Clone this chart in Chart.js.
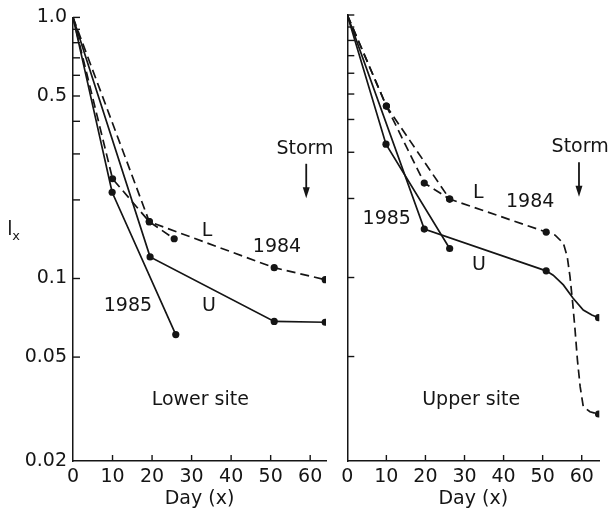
<!DOCTYPE html>
<html>
<head>
<meta charset="utf-8">
<script src="https://cdn.jsdelivr.net/npm/chart.js@4"></script>
<style>
  body { margin: 0; background: #fff; }
  .panel { position: absolute; top: 0; }
</style>
</head>
<body>
<div class="panel" style="left:0"><canvas id="lowerChart" width="336" height="513"></canvas></div>
<div class="panel" style="left:336px"><canvas id="upperChart" width="274" height="513"></canvas></div>
<script>
// axis ticks
const xTicks = [0, 10, 20, 30, 40, 50, 60];
const yTicks = [1, 0.9, 0.8, 0.7, 0.6, 0.5, 0.4, 0.3, 0.2, 0.1, 0.05, 0.02];
const yTickLabels = ["1.0", "", "", "", "", "0.5", "", "", "", "0.1", "0.05", "0.02"];

// Lower site
const lowL84Days = [0, 19.3, 50.9, 63.8];
const lowL84 = [1.0, 0.165, 0.11, 0.099];
const lowL85Days = [0, 10, 19.3, 25.6];
const lowL85 = [1.0, 0.241, 0.165, 0.142];
const lowU84Days = [0, 19.5, 50.9, 63.8];
const lowU84 = [1.0, 0.121, 0.0685, 0.068];
const lowU85Days = [0, 9.9, 26];
const lowU85 = [1.0, 0.214, 0.061];

// Upper site (1984 curves bend after day 51, storm)
const upL84Days = [0, 10, 26.2, 50.9, 53.2, 55.3, 56.3, 57.0, 57.7, 58.3, 58.9, 59.6, 60.4, 62.1, 64.3];
const upL84 = [1.0, 0.45, 0.199, 0.149, 0.145, 0.135, 0.12, 0.1007, 0.0797, 0.063, 0.0485, 0.0384, 0.0322, 0.0308, 0.0302];
const upL84Dots = [10, 26.2, 50.9, 64.3];
const upL85Days = [0, 10, 19.7, 26.2];
const upL85 = [1.0, 0.45, 0.229, 0.199];
const upU84Days = [0, 19.7, 50.9, 52.7, 55.3, 57.8, 60.4, 62.6, 64.3];
const upU84 = [1.0, 0.153, 0.106, 0.102, 0.0937, 0.0834, 0.0752, 0.072, 0.0703];
const upU84Dots = [19.7, 50.9, 64.3];
const upU85Days = [0, 9.9, 26.2];
const upU85 = [1.0, 0.322, 0.129];

const INK = "#151515";
const FONT = "DejaVu Sans";

function makeSet(days, vals, dashed, dots) {
  const dotDays = dots || days.slice(1);
  return {
    data: days.map((d, i) => ({ x: d, y: vals[i] })),
    showLine: true,
    borderColor: INK,
    borderWidth: 1.7,
    borderDash: dashed ? [9, 5] : [],
    tension: 0,
    pointRadius: (ctx) => (ctx.raw && dotDays.includes(ctx.raw.x) ? 3.6 : 0),
    pointBackgroundColor: INK,
    pointBorderWidth: 0,
  };
}

// inward tick marks, text notes and storm arrow
function decorations(notes, arrow, showYTitle) {
  return {
    id: "decorations",
    afterDraw(chart) {
      const { ctx, chartArea, scales } = chart;
      ctx.save();
      ctx.strokeStyle = INK;
      ctx.lineWidth = 1.4;
      scales.x.ticks.forEach((t) => {
        if (t.value === 0) return;
        const px = scales.x.getPixelForValue(t.value);
        ctx.beginPath();
        ctx.moveTo(px, chartArea.bottom);
        ctx.lineTo(px, chartArea.bottom - 6);
        ctx.stroke();
      });
      scales.y.ticks.forEach((t) => {
        if (t.value === 0.02) return;
        const py = scales.y.getPixelForValue(t.value);
        ctx.beginPath();
        ctx.moveTo(chartArea.left, py);
        ctx.lineTo(chartArea.left + 7, py);
        ctx.stroke();
      });

      ctx.fillStyle = INK;
      ctx.textAlign = "center";
      ctx.textBaseline = "middle";
      ctx.font = "19px '" + FONT + "'";
      notes.forEach((n) => {
        ctx.fillText(n.text, scales.x.getPixelForValue(n.day), scales.y.getPixelForValue(n.value));
      });

      // storm arrow
      const ax = scales.x.getPixelForValue(arrow.day);
      const ay1 = scales.y.getPixelForValue(arrow.from);
      const ay2 = scales.y.getPixelForValue(arrow.to);
      ctx.lineWidth = 1.8;
      ctx.beginPath();
      ctx.moveTo(ax, ay1);
      ctx.lineTo(ax, ay2 - 8);
      ctx.stroke();
      ctx.beginPath();
      ctx.moveTo(ax - 3.5, ay2 - 11);
      ctx.lineTo(ax + 3.5, ay2 - 11);
      ctx.lineTo(ax, ay2);
      ctx.closePath();
      ctx.fill();

      if (showYTitle) {
        ctx.font = "19px '" + FONT + "'";
        ctx.fillText("l", 10, 230);
        ctx.font = "13px '" + FONT + "'";
        ctx.fillText("x", 16, 237);
      }
      ctx.restore();
    },
  };
}

function makeOptions(xMax, yWidth, showYLabels, padRight) {
  return {
    responsive: false,
    animation: false,
    devicePixelRatio: 1,
    layout: { padding: { top: 15, right: padRight, left: 0, bottom: 0 } },
    plugins: { legend: { display: false }, tooltip: { enabled: false } },
    scales: {
      x: {
        type: "linear",
        min: 0,
        max: xMax,
        afterBuildTicks: (s) => { s.ticks = xTicks.map((v) => ({ value: v })); },
        afterFit: (s) => { s.height = 52; },
        grid: { display: false, drawTicks: false },
        border: { display: true, color: INK, width: 1.5 },
        ticks: { padding: 5, color: INK, font: { family: FONT, size: 19 }, maxRotation: 0, autoSkip: false },
        title: { display: true, text: "Day (x)", color: INK, font: { family: FONT, size: 19 }, padding: { top: 0, bottom: 3 } },
      },
      y: {
        type: "logarithmic",
        min: 0.02,
        max: 1,
        afterBuildTicks: (s) => { s.ticks = yTicks.map((v) => ({ value: v })); },
        afterFit: (s) => { s.width = yWidth; },
        grid: { display: false, drawTicks: false },
        border: { display: true, color: INK, width: 1.5 },
        ticks: {
          display: showYLabels,
          padding: 6,
          color: INK,
          font: { family: FONT, size: 19 },
          autoSkip: false,
          callback: (v) => yTickLabels[yTicks.indexOf(v)],
        },
      },
    },
  };
}

const lowerNotes = [
  { text: "Storm", day: 58.7, value: 0.314 },
  { text: "L", day: 33.9, value: 0.152 },
  { text: "1984", day: 51.6, value: 0.132 },
  { text: "1985", day: 13.9, value: 0.0786 },
  { text: "U", day: 34.4, value: 0.0786 },
  { text: "Lower site", day: 32.2, value: 0.0341 },
];
const upperNotes = [
  { text: "Storm", day: 59.6, value: 0.314 },
  { text: "L", day: 33.5, value: 0.21 },
  { text: "1984", day: 46.8, value: 0.194 },
  { text: "1985", day: 10.1, value: 0.167 },
  { text: "U", day: 33.7, value: 0.1116 },
  { text: "Upper site", day: 31.7, value: 0.0341 },
];

new Chart(document.getElementById("lowerChart").getContext("2d"), {
  type: "scatter",
  data: {
    datasets: [
      makeSet(lowL84Days, lowL84, true),
      makeSet(lowL85Days, lowL85, true),
      makeSet(lowU84Days, lowU84, false),
      makeSet(lowU85Days, lowU85, false),
    ],
  },
  options: makeOptions(64, 73, true, 10),
  plugins: [decorations(lowerNotes, { day: 59, from: 0.275, to: 0.203 }, true)],
});

new Chart(document.getElementById("upperChart").getContext("2d"), {
  type: "scatter",
  data: {
    datasets: [
      makeSet(upL84Days, upL84, true, upL84Dots),
      makeSet(upL85Days, upL85, true),
      makeSet(upU84Days, upU84, false, upU84Dots),
      makeSet(upU85Days, upU85, false),
    ],
  },
  options: makeOptions(64.5, 11.3, false, 10.7),
  plugins: [decorations(upperNotes, { day: 59.3, from: 0.275, to: 0.203 }, false)],
});
</script>
</body>
</html>
